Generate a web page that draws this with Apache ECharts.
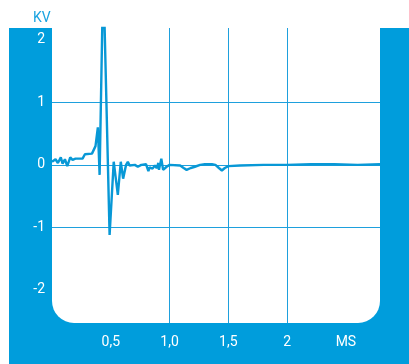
<!DOCTYPE html>
<html><head><meta charset="utf-8">
<script src="https://cdn.jsdelivr.net/npm/echarts@6/dist/echarts.min.js"></script>
<style>html,body{margin:0;padding:0;background:#fff}#c{width:409px;height:364px}</style>
</head><body><div id="c"></div>
<script>
const timeMs = [0.00,0.03,0.05,0.075,0.09,0.11,0.13,0.155,0.175,0.2,0.26,0.28,0.34,0.355,0.37,0.39,0.405,0.436,0.49,0.525,0.56,0.585,0.605,0.63,0.645,0.66,0.705,0.73,0.76,0.8,0.82,0.83,0.855,0.875,0.89,0.905,0.91,0.93,0.945,0.975,1.0,1.09,1.12,1.145,1.18,1.215,1.26,1.3,1.36,1.39,1.42,1.445,1.47,1.5,1.6,1.8,2.0,2.2,2.4,2.6,2.79];
const voltageKv = [0.05,0.09,0.03,0.12,0.02,0.09,-0.02,0.12,0.08,0.1,0.1,0.17,0.18,0.2,0.3,0.6,-0.16,3.1,-1.12,0.05,-0.48,0.05,-0.22,0.0,0.05,-0.01,0.0,-0.03,0.0,0.01,-0.1,-0.04,-0.06,-0.01,-0.05,0.03,-0.08,0.1,-0.08,-0.03,0.0,-0.01,-0.05,-0.08,-0.05,-0.03,0.0,0.01,0.01,0.0,-0.05,-0.09,-0.05,-0.02,-0.01,0.0,0.0,0.01,0.01,0.0,0.01];
const xTickValues = [0.5, 1, 1.5, 2, 2.5];
const xTickLabels = ['0,5', '1,0', '1,5', '2', 'MS'];
const yTickValues = [-2, -1, 0, 1, 2];
const yTickLabels = ['-2', '-1', '0', '1', '2'];
const yUnit = 'KV';

const BLUE = '#009ddc';
const GRIDC = '#1ea0dd';
const chart = echarts.init(document.getElementById('c'), null, {renderer: 'canvas'});
const series = timeMs.map((t, i) => [t, voltageKv[i]]);
chart.setOption({
  animation: false,
  backgroundColor: '#fff',
  title: {text: yUnit, left: 28, top: 6, textStyle: {color: '#1aa3e0', fontSize: 14, fontWeight: 'normal', fontFamily: 'Roboto'}},
  graphic: [
    {type: 'rect', z: -20, shape: {x: 9, y: 28, width: 400, height: 336}, style: {fill: BLUE}},
    {type: 'rect', z: -10, shape: {x: 52, y: 28, width: 328, height: 295, r: [0, 0, 22, 22]}, style: {fill: '#fff'}}
  ],
  grid: {left: 52, top: 28, width: 328, height: 295, containLabel: false},
  xAxis: {
    type: 'value', min: 0, max: 2.79,
    axisLine: {show: false},
    axisTick: {show: false, customValues: xTickValues},
    splitLine: {show: true, showMinLine: false, showMaxLine: false, lineStyle: {color: GRIDC, width: 1}},
    axisLabel: {customValues: xTickValues, color: '#fff', fontSize: 14, fontFamily: 'Roboto', margin: 12,
      formatter: v => { const i = xTickValues.findIndex(x => Math.abs(x - v) < 1e-6); return i >= 0 ? xTickLabels[i] : ''; }}
  },
  yAxis: {
    type: 'value', min: -2.53, max: 2.19,
    axisLine: {show: false},
    axisTick: {show: false, customValues: yTickValues},
    splitLine: {show: true, showMinLine: false, showMaxLine: false, lineStyle: {color: GRIDC, width: 1}},
    axisLabel: {customValues: yTickValues, color: '#fff', fontSize: 14, fontFamily: 'Roboto', margin: 7,
      formatter: v => { const i = yTickValues.findIndex(x => Math.abs(x - v) < 1e-6); return i >= 0 ? yTickLabels[i] : ''; }}
  },
  series: [{
    type: 'line', data: series, showSymbol: false, symbol: 'none', clip: true,
    lineStyle: {color: '#0898d6', width: 2.4}, z: 5
  }]
});
</script></body></html>
